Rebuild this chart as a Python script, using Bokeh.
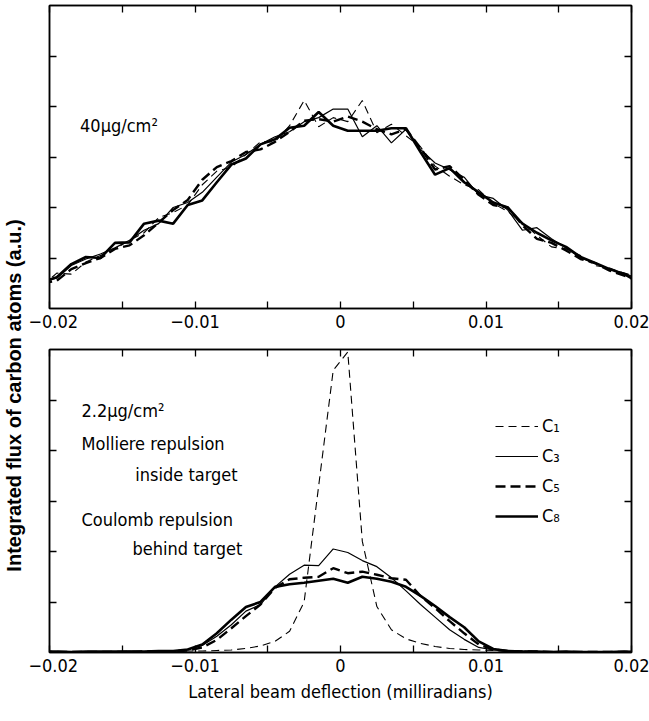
from math import pi
from bokeh.plotting import figure
from bokeh.models import (FixedTicker, LinearAxis, Range1d, Label, Legend, LegendItem,
                          CustomJSTickFormatter, CustomLabelingPolicy, ColumnDataSource)
from bokeh.layouts import row, column
from bokeh.embed import file_html
from bokeh.resources import INLINE

# ---------------- data ----------------
x_bins = [-0.0205, -0.0195, -0.0185, -0.0175, -0.0165, -0.0155, -0.0145, -0.0135,
          -0.0125, -0.0115, -0.0105, -0.0095, -0.0085, -0.0075, -0.0065, -0.0055,
          -0.0045, -0.0035, -0.0025, -0.0015, -0.0005, 0.0005, 0.0015, 0.0025,
          0.0035, 0.0045, 0.0055, 0.0065, 0.0075, 0.0085, 0.0095, 0.0105,
          0.0115, 0.0125, 0.0135, 0.0145, 0.0155, 0.0165, 0.0175, 0.0185,
          0.0195, 0.0205]

# 40 ug/cm2 target
top_C1 = [0.45, 0.70, 0.68, 0.92, 1.05, 1.18, 1.35, 1.50, 1.80, 1.90, 2.05, 2.45, 2.72, 2.80,
          3.05, 3.30, 3.30, 3.62, 4.12, 3.60, 3.78, 3.70, 4.12, 3.48, 3.65, 3.42, 3.20, 2.82,
          2.62, 2.45, 2.35, 2.08, 1.92, 1.70, 1.45, 1.22, 1.18, 1.05, 0.85, 0.80, 0.70, 0.62]
top_C3 = [0.55, 0.60, 0.85, 0.98, 1.08, 1.20, 1.35, 1.55, 1.68, 2.00, 2.10, 2.30, 2.60, 2.90,
          3.05, 3.25, 3.40, 3.50, 3.70, 3.78, 3.95, 3.95, 3.40, 3.62, 3.28, 3.55, 3.15, 2.88,
          2.75, 2.60, 2.25, 2.18, 1.95, 1.55, 1.60, 1.38, 1.20, 1.00, 0.90, 0.78, 0.70, 0.58]
top_C5 = [0.50, 0.55, 0.78, 0.90, 1.00, 1.18, 1.25, 1.45, 1.70, 1.95, 2.15, 2.55, 2.80, 2.92,
          3.10, 3.15, 3.30, 3.50, 3.72, 3.75, 3.70, 3.80, 3.70, 3.55, 3.45, 3.55, 3.18, 2.75,
          2.82, 2.55, 2.25, 2.05, 2.00, 1.65, 1.38, 1.30, 1.15, 0.98, 0.90, 0.75, 0.65, 0.55]
top_C8 = [0.52, 0.62, 0.88, 1.02, 1.00, 1.30, 1.31, 1.68, 1.74, 1.68, 2.05, 2.14, 2.50, 2.85,
          2.97, 3.25, 3.35, 3.58, 3.62, 3.89, 3.62, 3.52, 3.52, 3.52, 3.57, 3.57, 3.10, 2.65,
          2.78, 2.50, 2.30, 2.10, 2.00, 1.68, 1.50, 1.35, 1.22, 1.02, 0.90, 0.78, 0.68, 0.52]

# 2.2 ug/cm2 target
bot_C1 = [0.01, 0.01, 0.01, 0.02, 0.01, 0.02, 0.02, 0.02, 0.02, 0.03, 0.03, 0.03, 0.04, 0.05,
          0.08, 0.13, 0.22, 0.42, 1.00, 3.30, 5.59, 5.95, 2.20, 0.91, 0.45, 0.27, 0.18, 0.12,
          0.08, 0.06, 0.05, 0.04, 0.03, 0.03, 0.02, 0.02, 0.02, 0.02, 0.01, 0.01, 0.01, 0.01]
bot_C3 = [0.01, 0.01, 0.02, 0.01, 0.02, 0.02, 0.03, 0.02, 0.03, 0.03, 0.06, 0.14, 0.32, 0.55,
          0.82, 0.95, 1.30, 1.55, 1.73, 1.72, 2.05, 1.98, 1.82, 1.70, 1.48, 1.22, 0.95, 0.70,
          0.45, 0.26, 0.10, 0.05, 0.03, 0.02, 0.02, 0.01, 0.02, 0.01, 0.01, 0.01, 0.01, 0.01]
bot_C5 = [0.01, 0.01, 0.01, 0.01, 0.01, 0.01, 0.01, 0.02, 0.02, 0.02, 0.04, 0.10, 0.25, 0.48,
          0.72, 0.95, 1.28, 1.45, 1.48, 1.50, 1.67, 1.57, 1.60, 1.54, 1.47, 1.44, 1.12, 0.88,
          0.62, 0.38, 0.16, 0.06, 0.03, 0.02, 0.02, 0.01, 0.01, 0.01, 0.01, 0.01, 0.01, 0.01]
bot_C8 = [0.02, 0.02, 0.01, 0.02, 0.02, 0.02, 0.02, 0.02, 0.03, 0.03, 0.06, 0.16, 0.38, 0.65,
          0.90, 1.00, 1.30, 1.35, 1.38, 1.42, 1.46, 1.38, 1.50, 1.46, 1.40, 1.30, 1.12, 0.92,
          0.70, 0.50, 0.22, 0.07, 0.03, 0.02, 0.02, 0.01, 0.02, 0.01, 0.01, 0.01, 0.02, 0.01]

series_names = ["C\u2081", "C\u2083", "C\u2085", "C\u2088"]
x_major = [-0.02, -0.01, 0.0, 0.01, 0.02]
x_minor = [-0.015, -0.005, 0.005, 0.015]
y_ticks = [1, 2, 3, 4, 5]

FONT = "DejaVu Sans Condensed, Liberation Sans, sans-serif"
FS = "18px"

styles = [dict(line_width=1.1, line_dash="8 5"),
          dict(line_width=1.2),
          dict(line_width=2.4, line_dash="10 5"),
          dict(line_width=2.6)]

xfmt = CustomJSTickFormatter(code="""
if (Math.abs(tick) < 1e-12) return "0";
const s = Math.abs(tick).toFixed(2);
return tick < 0 ? "\\u2212" + s : s;
""")

no_labels = CustomLabelingPolicy(code="""
const n = indices.size;
for (let i = 0; i < n; i++) indices.unset(i);
return indices;
""")


def style_axis(ax, labels=True):
    ax.axis_line_width = 1.5
    ax.axis_line_color = "black"
    ax.major_tick_in = 7
    ax.major_tick_out = 0
    ax.minor_tick_in = 7
    ax.minor_tick_out = 0
    ax.major_tick_line_width = 1.3
    ax.minor_tick_line_width = 1.3
    ax.major_tick_line_color = "black"
    ax.minor_tick_line_color = "black"
    if labels:
        ax.major_label_text_font = FONT
        ax.major_label_text_font_size = FS
        ax.major_label_text_color = "black"
        ax.major_label_standoff = 6
    else:
        ax.major_label_policy = no_labels
        ax.major_label_text_font_size = "0px"
        ax.major_label_standoff = 0


def make_panel(ys, border_top, border_bottom, xlabel=None):
    p = figure(frame_width=582, frame_height=303, x_range=Range1d(-0.02, 0.02),
               y_range=Range1d(0, 6), output_backend="svg", toolbar_location=None,
               min_border_left=21, min_border_right=18, min_border_top=border_top,
               min_border_bottom=border_bottom)
    p.grid.visible = False
    p.outline_line_color = "black"
    p.outline_line_width = 1.5
    p.background_fill_color = "white"
    p.border_fill_color = "white"

    p.xaxis.ticker = FixedTicker(ticks=x_major, minor_ticks=x_minor)
    p.xaxis.formatter = xfmt
    p.yaxis.ticker = FixedTicker(ticks=y_ticks, minor_ticks=[])
    style_axis(p.xaxis[0], labels=True)
    style_axis(p.yaxis[0], labels=False)
    if xlabel:
        p.xaxis.axis_label = xlabel
        p.xaxis.axis_label_text_font = FONT
        p.xaxis.axis_label_text_font_size = FS
        p.xaxis.axis_label_text_font_style = "normal"
        p.xaxis.axis_label_text_color = "black"
        p.xaxis.axis_label_standoff = 6

    top_ax = LinearAxis(ticker=FixedTicker(ticks=x_major, minor_ticks=x_minor))
    style_axis(top_ax, labels=False)
    p.add_layout(top_ax, "above")
    right_ax = LinearAxis(ticker=FixedTicker(ticks=y_ticks, minor_ticks=[]))
    style_axis(right_ax, labels=False)
    p.add_layout(right_ax, "right")

    rends = []
    for y, st in zip(ys, styles):
        src = ColumnDataSource(dict(x=x_bins, y=y))
        r = p.line("x", "y", source=src, line_color="black", **st)
        rends.append(r)
    return p, rends


def add_text(p, x, y, txt):
    p.add_layout(Label(x=x, y=y, text=txt, text_font=FONT, text_font_size=FS,
                       text_baseline="alphabetic", text_align="left", text_color="black"))


top, _ = make_panel([top_C1, top_C3, top_C5, top_C8], 5, 36)
add_text(top, -0.0179, 3.62, "40\u03bcg/cm\u00b2")

bot, rends = make_panel([bot_C1, bot_C3, bot_C5, bot_C8], 5, 66,
                        xlabel="Lateral beam deflection (milliradians)")
add_text(bot, -0.0178, 4.80, "2.2\u03bcg/cm\u00b2")
add_text(bot, -0.0178, 4.13, "Molliere repulsion")
add_text(bot, -0.0141, 3.53, "inside target")
add_text(bot, -0.0178, 2.64, "Coulomb repulsion")
add_text(bot, -0.0143, 2.05, "behind target")

legend = Legend(items=[LegendItem(label=n, renderers=[r]) for n, r in zip(series_names, rends)],
                location=(446, 126), orientation="vertical")
legend.label_text_font = FONT
legend.label_text_font_size = FS
legend.label_text_color = "black"
legend.glyph_width = 43
legend.glyph_height = 20
legend.label_height = 20
legend.label_standoff = 4
legend.spacing = 9
legend.padding = 0
legend.margin = 0
legend.border_line_alpha = 0
legend.background_fill_alpha = 0
bot.add_layout(legend, "center")

# side figure carrying the shared vertical axis title
side = figure(width=28, height=718, x_range=Range1d(0, 28), y_range=Range1d(0, 718),
              output_backend="svg", toolbar_location=None, min_border=0)
side.axis.visible = False
side.grid.visible = False
side.outline_line_color = None
side.add_layout(Label(x=13, y=718 - 395, text="Integrated flux of carbon atoms (a.u.)",
                      angle=pi / 2, text_align="center", text_baseline="middle",
                      text_font="Liberation Sans", text_font_style="bold",
                      text_font_size="20px", text_color="black"))

layout = row(side, column(top, bot, spacing=0), spacing=0)
open("out.html", "w").write(file_html(layout, INLINE))
